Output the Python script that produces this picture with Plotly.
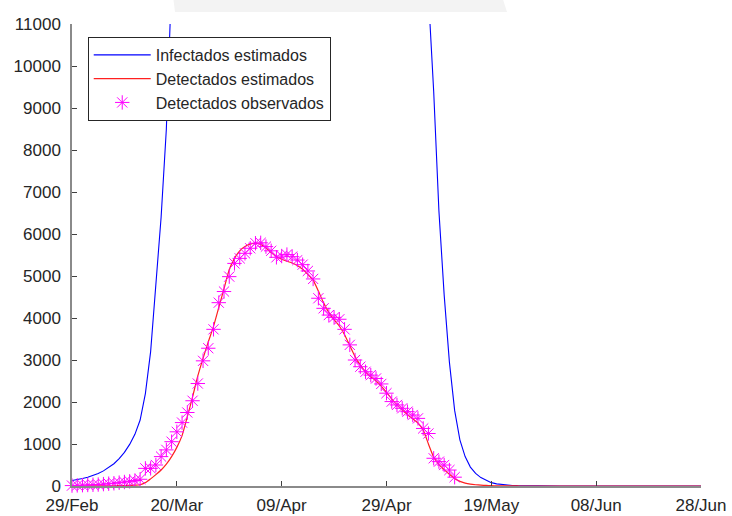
import pandas as pd
import plotly.graph_objects as go

# Daily model output, 29 Feb 2020 .. 28 Jun 2020 (121 days)
start_date = "2020-02-29"
model_days = pd.date_range(start_date, periods=121, freq="D")

infectados_estimados = [
    130, 150, 180, 210, 250, 300, 360, 440, 530, 650,
    800, 990, 1230, 1570, 2200, 3200, 4700, 6400, 8500, 11200,
    14500, 19000, 24500, 31000, 38000, 45000, 52000, 58000, 63000, 67000,
    70000, 72000, 73000, 73500, 73000, 72000, 70500, 68500, 66000, 63000,
    60000, 57000, 54000, 51000, 48000, 45000, 42000, 39000, 36000, 33500,
    31000, 29000, 27000, 25500, 24000, 22500, 21000, 19800, 18800, 17900,
    17000, 16200, 15500, 14900, 14300, 13700, 13100, 12400, 11700, 9400,
    6550, 4550, 2950, 1800, 1100, 700, 450, 300, 200, 130,
    80, 50, 32, 20, 13, 8, 5, 3, 2, 1,
    1, 1, 0, 0, 0, 0, 0, 0, 0, 0,
    0, 0, 0, 0, 0, 0, 0, 0, 0, 0,
    0, 0, 0, 0, 0, 0, 0, 0, 0, 0,
    0,
]

detectados_estimados = [
    0, 0, 0, 1, 1, 2, 3, 4, 6, 8,
    11, 15, 20, 30, 80, 170, 270, 380, 520, 700,
    920, 1200, 1650, 2120, 2620, 3040, 3430, 3800, 4250, 4700,
    5150, 5420, 5600, 5700, 5760, 5780, 5750, 5670, 5560, 5460,
    5400, 5350, 5310, 5250, 5160, 5040, 4900, 4640, 4360, 4130,
    3960, 3810, 3600, 3340, 3080, 2880, 2720, 2600, 2500, 2380,
    2230, 2070, 1930, 1810, 1700, 1600, 1500, 1330, 1000, 690,
    510, 390, 280, 180, 110, 70, 45, 30, 20, 13,
    8, 5, 3, 2, 1, 1, 0, 0, 0, 0,
    0, 0, 0, 0, 0, 0, 0, 0, 0, 0,
    0, 0, 0, 0, 0, 0, 0, 0, 0, 0,
    0, 0, 0, 0, 0, 0, 0, 0, 0, 0,
    0,
]

# Observed detections, 29 Feb .. 12 May
detectados_observados = [
    10, 15, 20, 25, 30, 35, 45, 55, 65, 80,
    95, 110, 130, 160, 420, 420, 500, 700, 860, 1055,
    1290, 1510, 1750, 2030, 2440, 2980, 3280, 3730, 4365, 4630,
    4985, 5300, 5420, 5540, 5660, 5780, 5790, 5700, 5600, 5445,
    5475, 5510, 5460, 5380, 5270, 5120, 4930, 4470, 4230, 4070,
    4015, 3970, 3730, 3360, 3000, 2840, 2720, 2640, 2560, 2430,
    2210, 2010, 1930, 1850, 1770, 1690, 1610, 1370, 1250, 660,
    580, 500, 380, 210,
]
obs_days = pd.date_range(start_date, periods=len(detectados_observados), freq="D")

x_tick_dates = ["2020-02-29", "2020-03-20", "2020-04-09", "2020-04-29",
                "2020-05-19", "2020-06-08", "2020-06-28"]
x_tick_labels = ["29/Feb", "20/Mar", "09/Apr", "29/Apr", "19/May", "08/Jun", "28/Jun"]
y_ticks = [0, 1000, 2000, 3000, 4000, 5000, 6000, 7000, 8000, 9000, 10000, 11000]

font_family = "Liberation Sans, Arial, sans-serif"
text_color = "#262626"

fig = go.Figure()

fig.add_trace(go.Scatter(
    x=model_days, y=infectados_estimados, mode="lines",
    name="Infectados estimados",
    line=dict(color="#0000ff", width=1.1),
))
fig.add_trace(go.Scatter(
    x=model_days, y=detectados_estimados, mode="lines",
    name="Detectados estimados",
    line=dict(color="#ff2020", width=1.2, shape="spline", smoothing=0.6),
))
fig.add_trace(go.Scatter(
    x=obs_days, y=detectados_observados, mode="markers",
    name="Detectados observados",
    marker=dict(symbol="asterisk-open", size=12, color="#ff00ff",
                line=dict(color="#ff00ff", width=1)),
    cliponaxis=False,
))

# faint grey band along the top edge of the page
fig.add_shape(
    type="path", xref="paper", yref="paper",
    path="M 0.1606 1.06 L 0.6836 1.06 L 0.6916 1.026 L 0.1638 1.026 Z",
    fillcolor="#f3f3f3", line=dict(width=0), layer="below",
)

fig.update_layout(
    width=732, height=516,
    margin=dict(l=72, r=31, t=24, b=30),
    paper_bgcolor="white", plot_bgcolor="white",
    font=dict(family=font_family, size=17, color=text_color),
    showlegend=True,
    legend=dict(
        x=0.025, y=0.972, xanchor="left", yanchor="top",
        bgcolor="white", bordercolor=text_color, borderwidth=1,
        font=dict(family=font_family, size=16, color=text_color),
        itemwidth=57, tracegroupgap=0,
    ),
)

fig.update_xaxes(
    type="date",
    range=["2020-02-29", "2020-06-28"],
    tickvals=x_tick_dates, ticktext=x_tick_labels,
    ticks="inside", ticklen=5, tickwidth=1, tickcolor="#404040",
    showline=True, linecolor="#8a8a8a", linewidth=1.5,
    showgrid=False, zeroline=False, automargin=False,
    tickfont=dict(size=17, color=text_color),
    ticklabelstandoff=3,
)
fig.update_yaxes(
    range=[0, 11000],
    tickvals=y_ticks, tickformat="d",
    ticks="inside", ticklen=5, tickwidth=1, tickcolor="#404040",
    showline=True, linecolor="#8a8a8a", linewidth=1.5,
    showgrid=False, zeroline=False, automargin=False,
    tickfont=dict(size=17, color=text_color),
    ticklabelstandoff=6,
)

fig.write_html("out.html")
